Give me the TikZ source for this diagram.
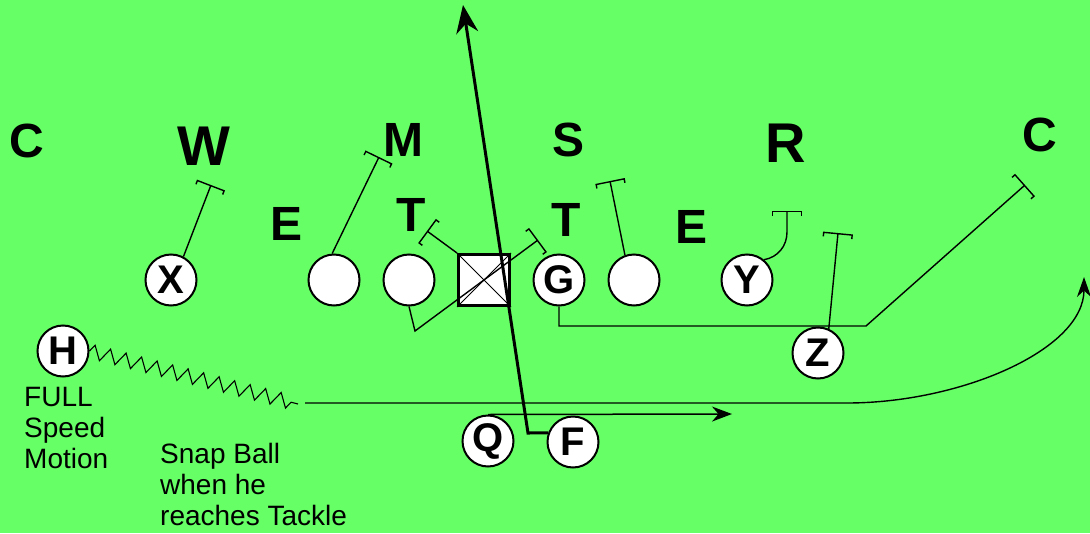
\documentclass[tikz,border=0pt]{standalone}
\usepackage{fontspec}
\setmainfont{Liberation Sans}
\usetikzlibrary{arrows.meta,shapes,positioning,decorations.pathmorphing}
\definecolor{field}{RGB}{102,255,102}
\tikzset{player/.style={draw,circle,fill=white,line width=2pt,minimum size=51pt,inner sep=0pt,font=\bfseries\fontsize{40}{40}\selectfont}}
\tikzstyle{dfn}=[inner sep=0pt, font=\bfseries\fontsize{48}{48}\selectfont]
\tikzstyle{big}=[dfn, font=\bfseries\fontsize{56}{56}\selectfont]
\tikzstyle{blk}=[line width=1.4pt, -{Bracket[width=30pt,length=4pt]}]
\tikzstyle{note}=[inner sep=0pt, align=left, font=\fontsize{28}{31}\selectfont]

\begin{document}
\begin{tikzpicture}[x=1pt,y=-1pt,>=Stealth, node distance=75pt]
\useasboundingbox (0,0) rectangle (1090,533);
\fill[field] (0,0) rectangle (1090,533);

% defense
\node[dfn] (CL) at (27,141) {C};
\node[big] (W) at (204,146) {W};
\node[dfn] (M) at (403,140) {M};
\node[dfn] (S) at (569,140) {S};
\node[big] (R) at (786,143) {R};
\node[dfn] (CR) at (1040,135) {C};
\node[dfn] (EL) at (287,224) {E};
\node[dfn] (TL) at (411,215) {T};
\node[dfn] (TR) at (566,220) {T};
\node[dfn] (ER) at (692,227) {E};

% offense
\node[player] (X) at (171,280) {X};
\node[player] (LT) at (334,280) {};
\node[player][right of=LT] (LG) {};
\node[draw,fill=white,line width=3pt,minimum size=51pt][right of=LG] (Ctr) {};
\node[player][right of=Ctr] (G) {G};
\node[player][right of=G] (RT) {};
\node[player] (Y) at (747,280) {Y};
\node[player] (Z) at (818,353) {Z};
\node[player] (H) at (63,351) {H};
\node[player] (Q) at (488,441) {Q};
\node[player] (F) at (573,442) {F};

\node[note,anchor=north west] (full) at (24,387) {FULL\\Speed\\Motion};
\node[note,anchor=north west] (snap) at (160,443) {Snap Ball\\when he\\reaches Tackle};

% route ends
\coordinate (xW) at (211,185);
\coordinate (ltM) at (379,157);
\coordinate (cT) at (427,231);
\coordinate (lgK) at (415,331);
\coordinate (lgT) at (538,240);
\coordinate (rtS) at (610,181);
\coordinate (yB) at (787,232);
\coordinate (yR) at (787,211);
\coordinate (gK) at (866,326);
\coordinate (gC) at (1025,185);
\coordinate (zR) at (838,233);
\coordinate (fK) at (528,433);
\coordinate (fE) at (463,5);
\coordinate (qE) at (732,414);
\coordinate (hM) at (298,404);
\coordinate (hS) at (305,403);
\coordinate (hK) at (847,403);
\coordinate (hE) at (1084,277);

\draw[line width=0.8pt] (Ctr.north west) -- (Ctr.south east) (Ctr.north east) -- (Ctr.south west);

% blocks
\draw[blk] (X.62) -- (xW);
\draw[blk] (LT.94) -- (ltM);
\draw[blk] (Ctr.north west) -- (cT);
\draw[blk] (LG.south) -- (lgK) -- (lgT);
\draw[blk] (RT.110) -- (rtS);
\draw[blk] (Y.50) to[out=10,in=-90] (yB) -- (yR);
\draw[blk] (G.south) |- (gK) -- (gC);
\draw[blk] (Z.66) -- (zR);

% backs
\draw[line width=3pt,-{Stealth[length=28pt,width=22pt]}] (F.160) -- (fK) -- (fE);
\draw[line width=1.5pt,-{Stealth[length=20pt,width=15pt]}] (Q.north) -- (qE);
\draw[line width=1.1pt,decorate,decoration={zigzag,segment length=16pt,amplitude=7pt}] (H.east) -- (hM);
\draw[line width=1.4pt,-{Stealth[length=20pt,width=14pt]}] (hS) -- (hK) .. controls (960,403) and (1084,350) .. (hE);
\end{tikzpicture}
\end{document}
